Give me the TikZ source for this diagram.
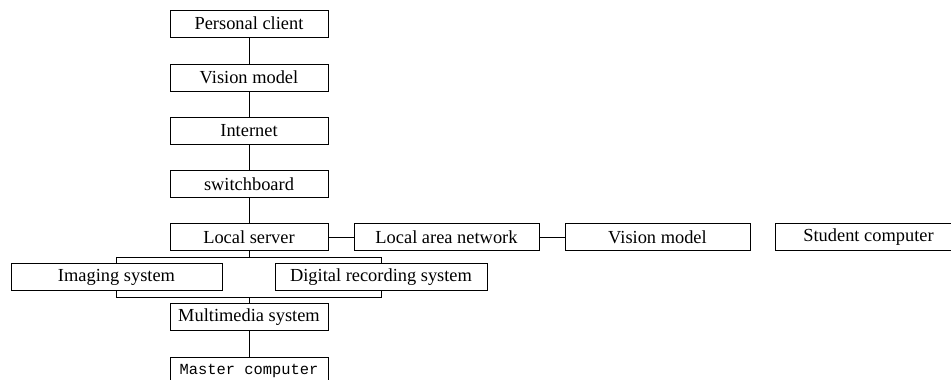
\documentclass[tikz,border=0pt]{standalone}
\usepackage{fontspec}
\setmainfont{Liberation Serif}
\setmonofont{Liberation Mono}
\usetikzlibrary{positioning}

\begin{document}
\begin{tikzpicture}[x=1pt, y=1pt,
	box/.style={rectangle, draw=black, line width=0.9pt, minimum height=27pt, inner sep=0pt, font=\fontsize{18.4}{22}\selectfont},
	link/.style={line width=0.9pt}]

		\useasboundingbox (0,0) rectangle (951,-380);
		\clip (0,0) rectangle (951,-380);

		\node[box, minimum width=158pt](client) at (249,-23.5){Personal client};
		\node[box, minimum width=158pt](vision1) at (249,-77.5){Vision model};
		\node[box, minimum width=158pt](internet) at (249,-130.5){Internet};
		\node[box, minimum width=158pt](switch) at (249,-184){switchboard};
		\node[box, minimum width=158pt](server) at (249,-237){Local server};

		\node[box, minimum width=185pt](lan) at (446.5,-237){Local area network};
		\node[box, minimum width=185pt](vision2) at (657.5,-237){Vision model};
		\node[box, minimum width=187pt](student) at (868.5,-237){Student computer};

		\node[box, minimum width=211pt](imaging) at (116.5,-277){Imaging system};
		\node[box, minimum width=212pt](digital) at (381,-277){Digital recording system};

		\node[box, minimum width=158pt](multi) at (249,-317){Multimedia system};
		\node[box, minimum width=158pt, font=\fontsize{15.4}{18}\selectfont\ttfamily](master) at (249,-370.5){Master computer};

		\coordinate[below=6pt of server] (split);
		\coordinate[above=6pt of multi] (merge);

		\draw [link] (client) -- (vision1);
		\draw [link] (vision1) -- (internet);
		\draw [link] (internet) -- (switch);
		\draw [link] (switch) -- (server);
		\draw [link] (server) -- (lan);
		\draw [link] (lan) -- (vision2);

		\draw [link] (server) -- (split);
		\draw [link] (imaging.north) |- (split) -| (digital.north);
		\draw [link] (imaging.south) |- (merge) -| (digital.south);
		\draw [link] (merge) -- (multi);
		\draw [link] (multi) -- (master);

	\end{tikzpicture}
\end{document}
